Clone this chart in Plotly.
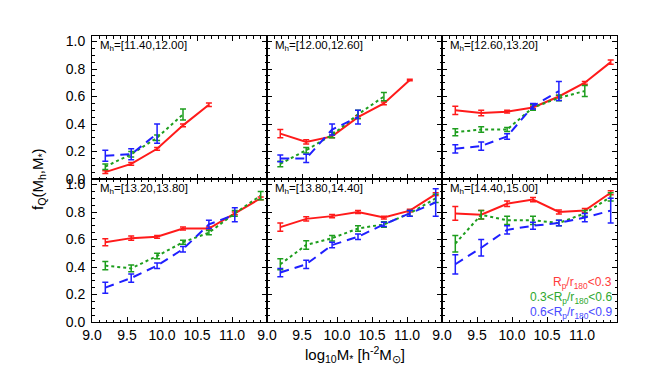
import plotly.graph_objects as go
from plotly.subplots import make_subplots

# stellar mass bin centres (log10 M*)
mass = [9.19, 9.56, 9.93, 10.30, 10.67, 11.04, 11.41]

halo_bins = ["[11.40,12.00]", "[12.00,12.60]", "[12.60,13.20]",
             "[13.20,13.80]", "[13.80,14.40]", "[14.40,15.00]"]

# quenched fraction per halo-mass panel, Rp/r180 < 0.3
red_y = [
    [0.05, 0.11, 0.22, 0.39, 0.54],
    [0.33, 0.27, 0.31, 0.45, 0.55, 0.72],
    [0.50, 0.48, 0.49, 0.52, 0.60, 0.70, 0.85],
    [0.58, 0.61, 0.62, 0.68, 0.68, 0.79, 0.90],
    [0.69, 0.75, 0.77, 0.80, 0.76, 0.81, 0.93],
    [0.79, 0.78, 0.86, 0.89, 0.80, 0.81, 0.94],
]
red_err = [
    [0.01, 0.01, 0.01, 0.01, 0.012],
    [0.03, 0.015, 0.01, 0.01, 0.01, 0.005],
    [0.03, 0.02, 0.01, 0.01, 0.01, 0.01, 0.015],
    [0.025, 0.015, 0.01, 0.01, 0.01, 0.01, 0.01],
    [0.03, 0.015, 0.012, 0.01, 0.01, 0.01, 0.01],
    [0.05, 0.03, 0.02, 0.015, 0.015, 0.015, 0.015],
]

# 0.3 < Rp/r180 < 0.6
green_y = [
    [0.09, 0.18, 0.30, 0.47],
    [0.11, 0.21, 0.32, 0.47, 0.60],
    [0.34, 0.36, 0.36, 0.52, 0.59, 0.64],
    [0.41, 0.39, 0.48, 0.58, 0.65, 0.79, 0.92],
    [0.42, 0.56, 0.61, 0.68, 0.71, 0.79, 0.90],
    [0.57, 0.78, 0.74, 0.74, 0.72, 0.79, 0.91],
]
green_err = [
    [0.02, 0.02, 0.02, 0.04],
    [0.02, 0.02, 0.02, 0.03, 0.03],
    [0.025, 0.02, 0.015, 0.02, 0.02, 0.04],
    [0.03, 0.025, 0.02, 0.015, 0.015, 0.02, 0.03],
    [0.04, 0.03, 0.02, 0.02, 0.02, 0.02, 0.03],
    [0.06, 0.03, 0.03, 0.03, 0.02, 0.02, 0.03],
]

# 0.6 < Rp/r180 < 0.9
blue_y = [
    [0.17, 0.18, 0.33],
    [0.15, 0.15, 0.36, 0.45],
    [0.22, 0.24, 0.31, 0.53, 0.64],
    [0.25, 0.32, 0.41, 0.53, 0.71, 0.78],
    [0.36, 0.42, 0.56, 0.62, 0.71, 0.79, 0.87],
    [0.42, 0.54, 0.67, 0.70, 0.72, 0.76, 0.81],
]
blue_err = [
    [0.04, 0.04, 0.07],
    [0.025, 0.03, 0.04, 0.05],
    [0.03, 0.03, 0.02, 0.02, 0.07],
    [0.04, 0.03, 0.02, 0.02, 0.03, 0.05],
    [0.03, 0.03, 0.02, 0.02, 0.015, 0.02, 0.1],
    [0.07, 0.06, 0.03, 0.025, 0.02, 0.03, 0.09],
]

RED = "#ff1a1a"
GREEN = "#1e9e1e"
BLUE = "#1f1fff"
FONT = "Liberation Sans"

fig = make_subplots(rows=2, cols=3, horizontal_spacing=0, vertical_spacing=0)

series = [
    (red_y, red_err, RED, "solid"),
    (green_y, green_err, GREEN, "dot"),
    (blue_y, blue_err, BLUE, "9px,6px"),
]

for p in range(6):
    row, col = p // 3 + 1, p % 3 + 1
    for ys, errs, color, dash in series:
        y = ys[p]
        fig.add_trace(go.Scatter(
            x=mass[:len(y)], y=y, mode="lines",
            line=dict(color=color, width=2, dash=dash),
            error_y=dict(type="data", array=errs[p], width=3, thickness=1.5, color=color),
            showlegend=False,
        ), row=row, col=col)
    ax = "" if p == 0 else str(p + 1)
    fig.add_annotation(
        x=0.035, y=0.93, xref=f"x{ax} domain", yref=f"y{ax} domain",
        text=f"M<sub>h</sub>={halo_bins[p]}", showarrow=False,
        xanchor="left", yanchor="middle", font=dict(size=11.5, color="black"),
    )

legend_rows = [
    ("R<sub>p</sub>/r<sub>180</sub>&lt;0.3", "#ff3b3b", 0.27),
    ("0.3&lt;R<sub>p</sub>/r<sub>180</sub>&lt;0.6", "#2ea82e", 0.165),
    ("0.6&lt;R<sub>p</sub>/r<sub>180</sub>&lt;0.9", "#4a4aff", 0.06),
]
for text, color, yy in legend_rows:
    fig.add_annotation(
        x=0.985, y=yy, xref="x6 domain", yref="y6 domain", text=text,
        showarrow=False, xanchor="right", yanchor="middle",
        font=dict(size=12, color=color),
    )

fig.update_xaxes(
    range=[9.0, 11.5], tick0=9.0, dtick=0.5, tickformat=".1f",
    labelalias={"11.5": ""},
    ticks="inside", ticklen=5, tickwidth=1, tickcolor="black",
    minor=dict(ticks="inside", dtick=0.1, ticklen=2.5, tickcolor="black"),
    showline=True, linecolor="black", linewidth=1, mirror="allticks",
    showgrid=False, zeroline=False, showticklabels=False,
)
fig.update_xaxes(showticklabels=True, row=2)
fig.update_yaxes(
    range=[0, 1.04], tick0=0, dtick=0.2, tickformat=".1f",
    ticks="inside", ticklen=5, tickwidth=1, tickcolor="black",
    minor=dict(ticks="inside", dtick=0.05, ticklen=2.5, tickcolor="black"),
    showline=True, linecolor="black", linewidth=1, mirror="allticks",
    showgrid=False, zeroline=False, showticklabels=False,
    ticklabelstandoff=3,
)
fig.update_yaxes(showticklabels=True, col=1)

fig.add_annotation(
    x=-0.125, y=0.5, xref="paper", yref="paper", textangle=-90,
    text="f<sub>Q</sub>(M<sub>h</sub>,M<sub>*</sub>)", showarrow=False,
    font=dict(size=15, color="black"),
)
fig.add_annotation(
    x=0.5, y=-0.115, xref="paper", yref="paper", yanchor="middle",
    text="log<sub>10</sub>M<sub>*</sub> [h<sup>-2</sup>M<sub>⊙</sub>]", showarrow=False,
    font=dict(size=15, color="black"),
)

fig.update_layout(
    width=664, height=369,
    margin=dict(l=84, r=55, t=28, b=55),
    paper_bgcolor="white", plot_bgcolor="white",
    font=dict(family=FONT, size=14, color="black"),
)

fig.write_html("out.html")
